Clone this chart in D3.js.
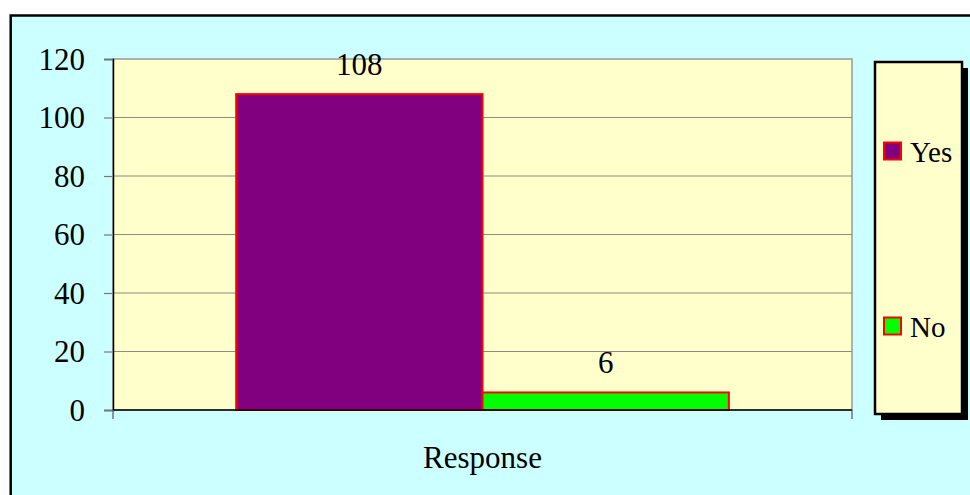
<!DOCTYPE html>
<html>
<head>
<meta charset="utf-8">
<script src="https://cdn.jsdelivr.net/npm/d3@7"></script>
<style>
  body { margin: 0; background: #fff; }
  svg { display: block; }
  svg text { font-family: "Times New Roman", "Liberation Serif", Tinos, serif; }
</style>
</head>
<body>
<svg></svg>
<script>
let categories = ['Response']
let seriesNames = ['Yes', 'No']
let seriesValues = [108, 6]
let seriesColors = ['#800080', '#00FF00']
let yTicks = [0, 20, 40, 60, 80, 100, 120]

let width = 970
let height = 495

let svg = d3.select('svg')
  .attr('width', width)
  .attr('height', height)

// outer chart area (runs off the right and bottom edges)
svg.append('rect')
  .attr('x', 10.7)
  .attr('y', 15.5)
  .attr('width', 1000)
  .attr('height', 1000)
  .attr('fill', '#CCFFFF')
  .attr('stroke', '#000')
  .attr('stroke-width', 2.5)

let plot = {left: 113, top: 59, right: 852, bottom: 410}

let y = d3.scaleLinear().domain([0, 120]).range([plot.bottom, plot.top])
let x0 = d3.scaleBand().domain(categories).range([plot.left, plot.right])
let x1 = d3.scaleBand().domain(seriesNames).range([0, x0.bandwidth()])
  .paddingInner(0).paddingOuter(0.5)

let g = svg.append('g')

g.append('rect')
  .attr('x', plot.left)
  .attr('y', plot.top)
  .attr('width', plot.right - plot.left)
  .attr('height', plot.bottom - plot.top)
  .attr('fill', '#FFFFCC')
  .attr('stroke', '#999')
  .attr('stroke-width', 1.5)

// gridlines
g.selectAll('.grid')
  .data(yTicks.filter(d => d > 0 && d < 120))
  .enter().append('line')
  .attr('x1', plot.left)
  .attr('x2', plot.right)
  .attr('y1', d => y(d))
  .attr('y2', d => y(d))
  .attr('stroke', '#8c8c80')
  .attr('stroke-width', 1.2)

// bars
let data = seriesNames.map((s, i) => ({name: s, value: seriesValues[i], color: seriesColors[i], cat: categories[0]}))

g.selectAll('.bar')
  .data(data)
  .enter().append('rect')
  .attr('x', d => x0(d.cat) + x1(d.name))
  .attr('y', d => y(d.value))
  .attr('width', x1.bandwidth())
  .attr('height', d => y(0) - y(d.value))
  .attr('fill', d => d.color)
  .attr('stroke', '#FF0000')
  .attr('stroke-width', 2)

// value labels
g.selectAll('.lbl')
  .data(data)
  .enter().append('text')
  .attr('x', d => x0(d.cat) + x1(d.name) + x1.bandwidth() / 2)
  .attr('y', d => y(d.value) - 19)
  .attr('text-anchor', 'middle')
  .style('font-size', '31px')
  .attr('fill', '#000')
  .text(d => d.value)

// y axis
let yAxis = g.append('g')
  .attr('transform', 'translate(' + plot.left + ',0)')
  .call(d3.axisLeft(y).tickValues(yTicks).tickSize(9).tickPadding(19))
yAxis.attr('font-family', null).attr('font-size', null)
yAxis.select('.domain').attr('stroke', '#000').attr('stroke-width', 1.5)
yAxis.selectAll('.tick line').attr('stroke', '#777').attr('stroke-width', 1.2)
yAxis.selectAll('.tick text')
  .style('font-size', '31px')
  .attr('fill', '#000')
  .attr('dy', '0.33em')

// x axis
let xAxis = g.append('g')
  .attr('transform', 'translate(0,' + plot.bottom + ')')
xAxis.append('line')
  .attr('x1', plot.left).attr('x2', plot.right)
  .attr('stroke', '#000').attr('stroke-width', 1.5)
xAxis.selectAll('.xt')
  .data(x0.range())
  .enter().append('line')
  .attr('x1', d => d).attr('x2', d => d)
  .attr('y1', 0).attr('y2', 9)
  .attr('stroke', '#555').attr('stroke-width', 1.2)
xAxis.selectAll('.xl')
  .data(categories)
  .enter().append('text')
  .attr('x', d => x0(d) + x0.bandwidth() / 2)
  .attr('y', 58)
  .attr('text-anchor', 'middle')
  .style('font-size', '31px')
  .attr('fill', '#000')
  .text(d => d)

// legend
let legend = {left: 875, top: 62, right: 962, bottom: 414}
svg.append('rect')
  .attr('x', legend.left + 6)
  .attr('y', legend.top + 6)
  .attr('width', legend.right - legend.left)
  .attr('height', legend.bottom - legend.top)
  .attr('fill', '#000')
svg.append('rect')
  .attr('x', legend.left)
  .attr('y', legend.top)
  .attr('width', legend.right - legend.left)
  .attr('height', legend.bottom - legend.top)
  .attr('fill', '#FFFFCC')
  .attr('stroke', '#000')
  .attr('stroke-width', 2.5)

let legendY = d3.scalePoint().domain(seriesNames).range([151, 326])
let items = svg.selectAll('.leg')
  .data(data)
  .enter().append('g')
  .attr('transform', d => 'translate(' + (legend.left + 9) + ',' + legendY(d.name) + ')')
items.append('rect')
  .attr('x', 0).attr('y', -8.5)
  .attr('width', 17).attr('height', 17)
  .attr('fill', d => d.color)
  .attr('stroke', '#FF0000')
  .attr('stroke-width', 2)
items.append('text')
  .attr('x', 26)
  .attr('y', 10.5)
  .style('font-size', '29px')
  .attr('fill', '#000')
  .text(d => d.name)
</script>
</body>
</html>
